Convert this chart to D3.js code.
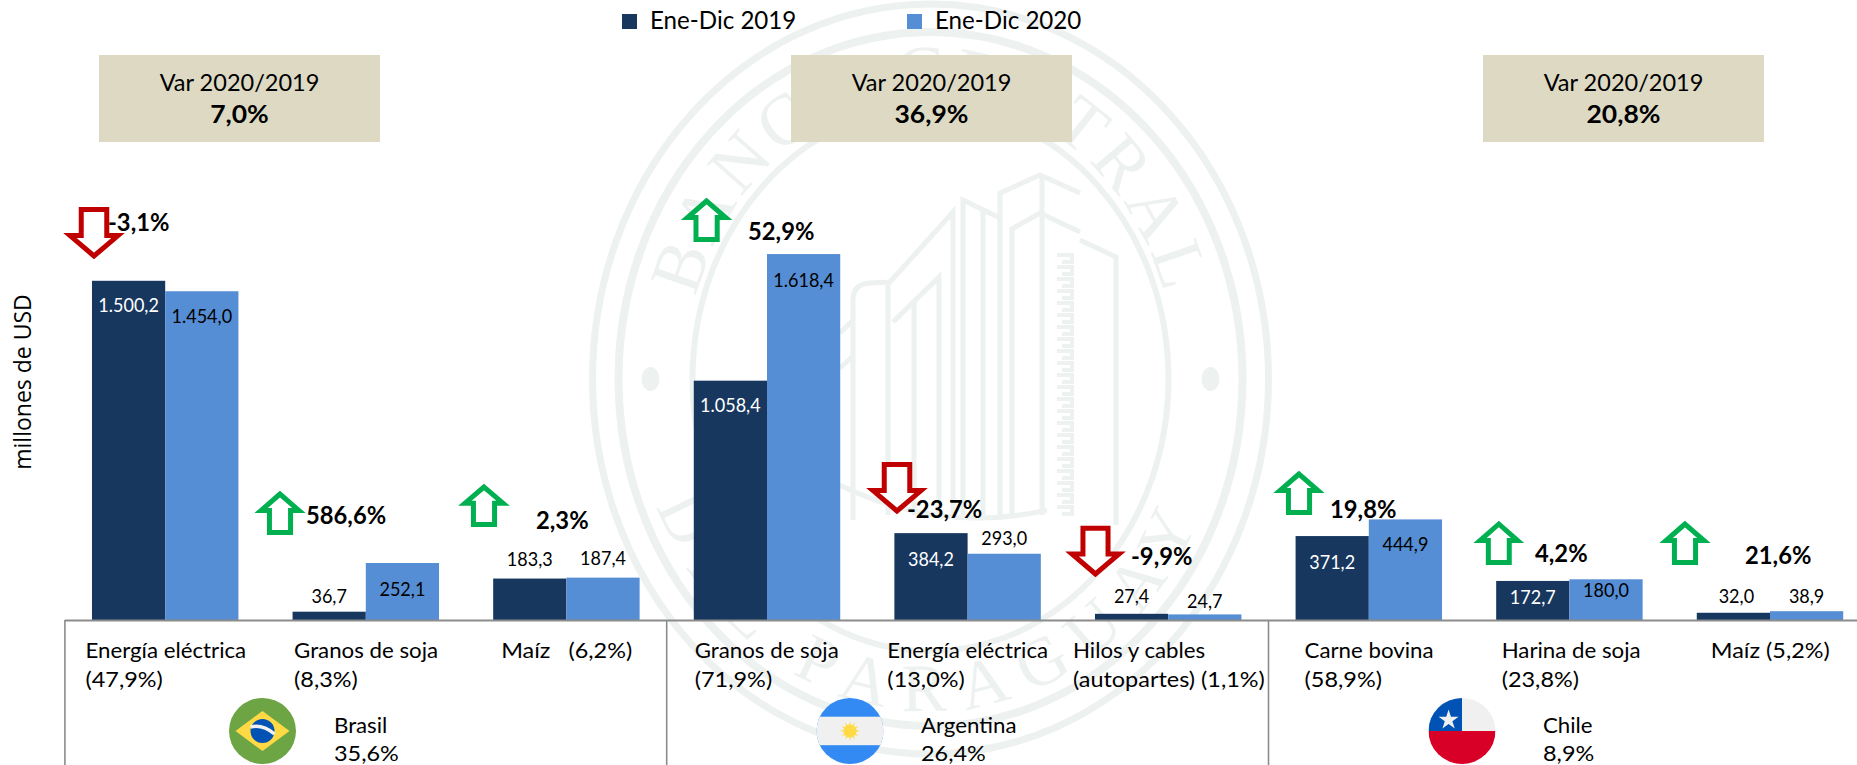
<!DOCTYPE html>
<html lang="es"><head><meta charset="utf-8">
<script src="https://cdnjs.cloudflare.com/ajax/libs/d3/7.8.5/d3.min.js"></script>
<style>html,body{margin:0;padding:0;background:#fff;overflow:hidden}svg{display:block}text{font-family:Lato,sans-serif;fill:#000}</style>
</head><body><svg id="c" width="1857" height="765"></svg>
<script>
// ---------- data ----------
const seriesNames = ["Ene-Dic 2019", "Ene-Dic 2020"];
const products = ["Energía eléctrica","Granos de soja","Maíz","Granos de soja (AR)","Energía eléctrica (AR)","Hilos y cables","Carne bovina","Harina de soja","Maíz (CL)"];
const values2019 = [1500.2, 36.7, 183.3, 1058.4, 384.2, 27.4, 371.2, 172.7, 32.0];
const values2020 = [1454.0, 252.1, 187.4, 1618.4, 293.0, 24.7, 444.9, 180.0, 38.9];
const variation = ["-3,1%","586,6%","2,3%","52,9%","-23,7%","-9,9%","19,8%","4,2%","21,6%"];
const categoryLines = [["Energía eléctrica","(47,9%)"],["Granos de soja","(8,3%)"],["Maíz   (6,2%)"],["Granos de soja","(71,9%)"],["Energía eléctrica","(13,0%)"],["Hilos y cables","(autopartes) (1,1%)"],["Carne bovina","(58,9%)"],["Harina de soja","(23,8%)"],["Maíz (5,2%)"]];
const countries = ["Brasil","Argentina","Chile"];
const countryShare = ["35,6%","26,4%","8,9%"];
const countryVar = ["7,0%","36,9%","20,8%"];

// ---------- layout (pixels, not data) ----------
const baseY = 620;
const label19dy = [31,-9,-12.6,31,33,-11,32.7,22.7,-10];
const label20dy = [31.7,33,-12.6,33,-9,-6,32,18,-8.5];
const label19dx = [0,0,0,0,0,0,0,0,3];
const label20dx = [0,0,0,0,0,0,0,0,0];
const catDx = [-6.5,1.5,8,1,-7,-22,9,5.5,14];
const arrowBox = [[65,123,207,261],[256,304,489,535],[460,508,482,527],[682.5,730.7,196,242],[868,926,462,516],[1067,1124,525.7,579],[1275,1323,469,515],[1475,1522.6,519,565],[1661,1709,519,565]];
const varPos = [[108,231],[306,524],[536,529],[748,240],[907,518],[1131,565],[1330,518],[1535,562],[1745,564]];
const boxX = [99,791,1483];
const countryX = [334,921,1543];
const flagX = [262.5,850,1462];

const svg = d3.select("#c");
const fmt = v => { const [a,b]=v.toFixed(1).split("."); return a.replace(/\B(?=(\d{3})+$)/g,".")+","+b; };
// Gill-Sans-like proportions: stretch a drawn text to a share of its natural width
const fit = r => function(){ this.setAttribute("textLength",this.getComputedTextLength()*r); this.setAttribute("lengthAdjust","spacingAndGlyphs"); };

// ---------- watermark ----------
const wmColour="#edf1f0";
const wm = svg.append("g").attr("fill","none").attr("stroke",wmColour);
const cx=930.5, cy=379;
[[338,375,7],[312,347,8],[238,272,6]].forEach(([rx,ry,w])=>wm.append("ellipse").attr("cx",cx).attr("cy",cy).attr("rx",rx).attr("ry",ry).attr("stroke-width",w));
[-1,1].forEach(s=>wm.append("ellipse").attr("cx",cx+s*280).attr("cy",cy).attr("rx",9).attr("ry",12).attr("fill",wmColour).attr("stroke","none"));
const bPaths=["M853 520V300Q853 284 870 283L890 282L953 212V515","M888 282V515","M893 322L939 277V515","M963 515V200L1000 218","M1000 515V193L1040 175L1080 193","M1010 230L1040 213L1080 232","M1012 228V515","M1042 175V515","M1080 240L1116 257V525","M840 333L853 320","M840 368L853 356","M914 300V515","M983 210V515","M835 483Q940 535 1047 510"];
bPaths.forEach(d=>wm.append("path").attr("d",d).attr("stroke-width",5));
wm.append("path").attr("d",d3.range(255,510,12).map(y=>`M1057 ${y}H1072V${y+7}H1062`).join("")).attr("stroke-width",4);
const defs=svg.append("defs");
defs.append("path").attr("id","wmTop").attr("d",`M${cx-245} ${cy}A245 284 0 0 1 ${cx+245} ${cy}`);
defs.append("path").attr("id","wmBot").attr("d",`M${cx-296} ${cy}A296 332 0 0 0 ${cx+296} ${cy}`);
[["#wmTop","BANCO CENTRAL",72,5],["#wmBot","DEL PARAGUAY",68,18]].forEach(([h,t,fs,ls])=>{
  svg.append("text").attr("font-size",fs).style("font-family","Liberation Serif").style("fill",wmColour).attr("letter-spacing",ls).attr("text-anchor","middle")
    .append("textPath").attr("href",h).attr("startOffset","50%").text(t);
});

// ---------- scales ----------
const x = d3.scaleBand().domain(products).range([64.9,1870.3]).paddingInner(.27).paddingOuter(.135);
const x1 = d3.scaleBand().domain(seriesNames).range([0,x.bandwidth()]);
const y = d3.scaleLinear().domain([0,1800]).range([baseY,baseY-407]);
const colour = d3.scaleOrdinal().domain(seriesNames).range(["#17375e","#558ed5"]);

// ---------- bars ----------
[values2019,values2020].forEach((vals,s)=>{
  svg.append("g").selectAll("rect").data(vals).join("rect")
    .attr("x",(d,i)=>x(products[i])+x1(seriesNames[s])).attr("width",x1.bandwidth())
    .attr("y",d=>y(d)).attr("height",d=>y(0)-y(d)).attr("fill",colour(seriesNames[s]));
});
[[values2019,label19dy,label19dx,0],[values2020,label20dy,label20dx,1]].forEach(([vals,dy,dx,s])=>{
  svg.append("g").selectAll("text").data(vals).join("text")
    .attr("text-anchor","middle").attr("font-size",20)
    .attr("x",(d,i)=>x(products[i])+x1(seriesNames[s])+x1.bandwidth()/2+dx[i])
    .attr("y",(d,i)=>y(d)+dy[i])
    .style("fill",(d,i)=>s===0&&dy[i]>0?"#fff":"#000").text(fmt).each(fit(.9));
});

// ---------- axis ----------
const ax = svg.append("g").attr("transform",`translate(0,${baseY})`).call(d3.axisBottom(x).tickSize(0).tickFormat(""));
ax.select(".domain").attr("stroke","#8c8c8c").attr("stroke-width",2).attr("d",`M${x.range()[0]} 0.5H1857`);
const groupEdges = [0,3,6].map(i=>x(products[i])-x.step()*x.paddingInner()/2);
svg.append("g").selectAll("line").data(groupEdges).join("line")
  .attr("x1",d=>d).attr("x2",d=>d).attr("y1",baseY).attr("y2",765).attr("stroke","#8c8c8c").attr("stroke-width",1.6);
categoryLines.forEach((lines,i)=>lines.forEach((t,j)=>{
  svg.append("text").attr("x",x(products[i])+catDx[i]).attr("y",658+j*28.5).attr("font-size",21.5).style("white-space","pre").text(t).each(fit(t.includes("%")?1.09:1.035));
}));

// ---------- variation arrows ----------
const arrowGen = (b,up)=>{
  const [x0,x1_,y0,y1]=b, w=x1_-x0, h=y1-y0, c=(x0+x1_)/2, sw=w*.22, hh=h*.47;
  const p = up
   ? [[c,y0+5],[x0+5,y0+hh],[c-sw,y0+hh],[c-sw,y1-2.5],[c+sw,y1-2.5],[c+sw,y0+hh],[x1_-5,y0+hh]]
   : [[c,y1-5],[x0+5,y1-hh],[c-sw,y1-hh],[c-sw,y0+2.5],[c+sw,y0+2.5],[c+sw,y1-hh],[x1_-5,y1-hh]];
  return d3.line()(p)+"Z";
};
svg.append("g").selectAll("path").data(variation).join("path")
  .attr("d",(d,i)=>arrowGen(arrowBox[i],!d.startsWith("-")))
  .attr("fill","#fff").attr("stroke-width",5).attr("stroke-linejoin","miter")
  .attr("stroke",d=>d.startsWith("-")?"#c00000":"#00b050");
svg.append("g").selectAll("text").data(variation).join("text")
  .attr("x",(d,i)=>varPos[i][0]).attr("y",(d,i)=>varPos[i][1]).attr("font-size",24.5).attr("font-weight",700).text(d=>d).each(fit(.97));

// ---------- legend ----------
const lg = svg.append("g");
seriesNames.forEach((n,i)=>{
  lg.append("rect").attr("x",[622,907][i]).attr("y",14).attr("width",15).attr("height",15).attr("fill",colour(n));
  lg.append("text").attr("x",[650,935][i]).attr("y",29).attr("font-size",24.5).text(n).each(fit(.985));
});

// ---------- country boxes ----------
countryVar.forEach((v,i)=>{
  svg.append("rect").attr("x",boxX[i]).attr("y",55).attr("width",281).attr("height",87).attr("fill","#ddd9c3");
  svg.append("text").attr("x",boxX[i]+140.5).attr("y",91).attr("text-anchor","middle").attr("font-size",24).text("Var 2020/2019").each(fit(.98));
  svg.append("text").attr("x",boxX[i]+140.5).attr("y",123).attr("text-anchor","middle").attr("font-size",25).attr("font-weight",700).text(v).each(fit(1.06));
});

// ---------- countries and flags ----------
countries.forEach((c,i)=>{
  svg.append("text").attr("x",countryX[i]).attr("y",732.5).attr("font-size",21.5).text(c).each(fit(1.035));
  svg.append("text").attr("x",countryX[i]).attr("y",761).attr("font-size",21.5).text(countryShare[i]).each(fit(1.09));
});
const fy=731, frx=33.5, fry=33;
countries.forEach((c,i)=>defs.append("clipPath").attr("id","clip"+i).append("ellipse").attr("cx",flagX[i]).attr("cy",fy).attr("rx",frx).attr("ry",fry));
const fb=svg.append("g").attr("clip-path","url(#clip0)"), bx=flagX[0];
fb.append("rect").attr("x",bx-frx).attr("y",fy-fry).attr("width",67).attr("height",66).attr("fill","#6da544");
fb.append("path").attr("d",`M${bx-27} ${fy}L${bx} ${fy-20}L${bx+27} ${fy}L${bx} ${fy+20}Z`).attr("fill","#ffda44");
fb.append("circle").attr("cx",bx).attr("cy",fy).attr("r",12).attr("fill","#0052b4");
fb.append("path").attr("d",`M${bx-12} ${fy-4}Q${bx} ${fy-7} ${bx+12} ${fy+3}`).attr("fill","none").attr("stroke","#f0f0f0").attr("stroke-width",3.5);
const fa=svg.append("g").attr("clip-path","url(#clip1)"), ax2=flagX[1];
fa.append("rect").attr("x",ax2-frx).attr("y",fy-fry).attr("width",67).attr("height",66).attr("fill","#338af3");
fa.append("rect").attr("x",ax2-frx).attr("y",716.7).attr("width",67).attr("height",28.5).attr("fill","#f0f0f0");
d3.range(0,360,30).forEach(a=>fa.append("path").attr("d",`M${ax2-2.2} ${fy}L${ax2} ${fy-10}L${ax2+2.2} ${fy}Z`).attr("transform",`rotate(${a} ${ax2} ${fy})`).attr("fill","#ffda44"));
fa.append("circle").attr("cx",ax2).attr("cy",fy).attr("r",6.5).attr("fill","#ffda44");
const fc=svg.append("g").attr("clip-path","url(#clip2)"), cx3=flagX[2];
fc.append("rect").attr("x",cx3-frx).attr("y",fy-fry).attr("width",67).attr("height",33).attr("fill","#f0f0f0");
fc.append("rect").attr("x",cx3-frx).attr("y",fy).attr("width",67).attr("height",34).attr("fill","#d80027");
fc.append("rect").attr("x",cx3-frx).attr("y",fy-fry).attr("width",33.5).attr("height",33).attr("fill","#0052b4");
const star=d3.range(10).map(k=>{const r=k%2?4:10.5,a=k*Math.PI/5;return [cx3-13.4+r*Math.sin(a),fy-11-r*Math.cos(a)];});
fc.append("path").attr("d",d3.line()(star)+"Z").attr("fill","#f0f0f0");

// ---------- y title ----------
svg.append("text").attr("transform","translate(31,382) rotate(-90)").attr("text-anchor","middle").attr("font-size",23).style("font-family","Open Sans").text("millones de USD");
</script></body></html>
